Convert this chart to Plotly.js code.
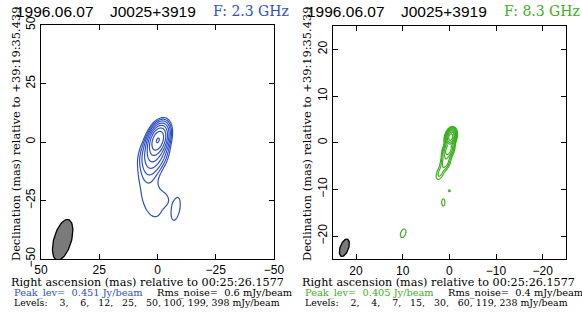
<!DOCTYPE html>
<html><head><meta charset="utf-8">
<script src="https://cdn.plot.ly/plotly-3.0.1.min.js"></script>
<style>html,body{margin:0;padding:0;background:#fff}#plot{width:582px;height:313px}</style>
</head><body><div id="plot"></div>
<script>
// ---------- DATA ----------
const epoch = "1996.06.07";
const source = "J0025+3919";
const raRef = "00:25:26.1577";
const decRef = "+39:19:35.439";

// Panel 1 : 2.3 GHz
const freq1 = "F: 2.3 GHz";
const peak1 = 0.451;          // Jy/beam
const rms1 = 0.6;             // mJy/beam
const levels1 = [3, 6, 12, 25, 50, 100, 199, 398];   // mJy/beam
const comp1_x = [-0.2, 1.5, 3.0, 2.5, -2.5, -8.0];   // mas
const comp1_y = [0.9, -5.0, -11.0, -23.5, -24.5, -28.4];
const comp1_peak = [400, 60, 9, 5.0, 3.0, 5.0];      // mJy/beam
const comp1_maj = [7.5, 9, 9, 20, 5, 10.5];          // FWHM mas
const comp1_min = [4.2, 6, 5.5, 9.5, 5, 3.6];
const comp1_pa = [-20, -20, -15, 13, 0, -10];        // deg
const beam1 = {x: 40.7, y: -41.8, maj: 18, min: 7.5, pa: -16};

// Panel 2 : 8.3 GHz
const freq2 = "F: 8.3 GHz";
const peak2 = 0.405;
const rms2 = 0.4;
const levels2 = [2, 4, 7, 15, 30, 60, 119, 238];
const comp2_x = [-0.3, 0.2, 0.8, 2.0, 0.0, 1.3, 9.9];
const comp2_y = [1.2, -1.5, -4.0, -6.5, -10.3, -12.8, -19.4];
const comp2_peak = [380, 50, 12, 5, 3, 3, 3];
const comp2_maj = [1.7, 2.2, 2.5, 2.5, 0.5, 2.0, 2.5];
const comp2_min = [1.0, 1.2, 1.3, 1.2, 0.5, 0.9, 1.4];
const comp2_pa = [-15, -20, -15, -20, 0, 0, -20];
const beam2 = {x: 22.5, y: -22.5, maj: 3.9, min: 1.8, pa: -20};

const blue = "#2f4fc4";
const green = "#3cb022";

// ---------- HELPERS ----------
function makeGrid(cx, cy, pk, maj, mn, pa, x0, x1, y0, y1, step, levels) {
  const xs = [], ys = [];
  for (let x = x0; x <= x1 + 1e-9; x += step) xs.push(+x.toFixed(4));
  for (let y = y0; y <= y1 + 1e-9; y += step) ys.push(+y.toFixed(4));
  const k = 4 * Math.log(2);
  const z = ys.map(y => xs.map(x => {
    let s = 0;
    for (let i = 0; i < cx.length; i++) {
      const t = pa[i] * Math.PI / 180;
      const dx = x - cx[i], dy = y - cy[i];
      const a = dx * Math.sin(t) + dy * Math.cos(t);
      const b = dx * Math.cos(t) - dy * Math.sin(t);
      s += pk[i] * Math.exp(-k * (a * a / (maj[i] * maj[i]) + b * b / (mn[i] * mn[i])));
    }
    s = Math.max(s, 1e-8);
    const L = levels, n = L.length;
    if (s < L[0]) return 1 + Math.log(s / L[0]) / Math.log(L[1] / L[0]);
    for (let i = 0; i < n - 1; i++) {
      if (s < L[i + 1]) return i + 1 + Math.log(s / L[i]) / Math.log(L[i + 1] / L[i]);
    }
    return n + Math.log(s / L[n - 1]) / Math.log(L[n - 1] / L[n - 2]);
  }));
  return {xs, ys, z};
}
function beamTrace(b, xa, ya) {
  const bx = [], by = [];
  const t = b.pa * Math.PI / 180;
  for (let i = 0; i <= 72; i++) {
    const p = i / 72 * 2 * Math.PI;
    const a = b.maj / 2 * Math.cos(p), c = b.min / 2 * Math.sin(p);
    bx.push(b.x + a * Math.sin(t) + c * Math.cos(t));
    by.push(b.y + a * Math.cos(t) - c * Math.sin(t));
  }
  return {x: bx, y: by, xaxis: xa, yaxis: ya, type: "scatter", mode: "lines",
    fill: "toself", fillcolor: "#7a7a7a", line: {color: "#000", width: 1.3},
    hoverinfo: "skip", showlegend: false};
}
function contourTrace(g, color, nlev, xa, ya) {
  return {type: "contour", x: g.xs, y: g.ys, z: g.z, xaxis: xa, yaxis: ya,
    contours: {coloring: "lines", start: 1, end: nlev, size: 1, showlabels: false},
    colorscale: [[0, color], [1, color]], showscale: false,
    line: {width: 1.2, smoothing: 1}, hoverinfo: "skip"};
}

const g1 = makeGrid(comp1_x, comp1_y, comp1_peak, comp1_maj, comp1_min, comp1_pa,
  -22, 22, -45, 20, 0.25, levels1);
const g2 = makeGrid(comp2_x, comp2_y, comp2_peak, comp2_maj, comp2_min, comp2_pa,
  -5, 14, -24, 7, 0.06, levels2);

const traces = [
  contourTrace(g1, blue, levels1.length, "x", "y"),
  beamTrace(beam1, "x", "y"),
  contourTrace(g2, green, levels2.length, "x2", "y2"),
  beamTrace(beam2, "x2", "y2")
];

// ---------- LAYOUT ----------
const W = 582, H = 313;
const px = v => v / W, py = v => 1 - v / H;
const NB = "\u00a0";
const nb = s => s.replace(/ /g, NB);

function axisX(dom, rng, dt) {
  return {domain: dom, range: rng, dtick: dt, tick0: 0, ticks: "inside", ticklen: 5,
    tickcolor: "#000", mirror: "ticks", showline: true, linecolor: "#000", linewidth: 1,
    showgrid: false, zeroline: false, tickfont: {family: "Liberation Sans", size: 12, color: "#000"},
    fixedrange: true};
}
function axisY(dom, rng, dt, anchor) {
  const a = axisX(dom, rng, dt);
  a.tickangle = -90; a.anchor = anchor;
  return a;
}

const ann = [];
function addPanel(off, freq, col, peak, rms, levels) {
  ann.push({text: epoch, x: px(off + 15), y: py(11), xanchor: "left", yanchor: "middle",
    font: {family: "Liberation Sans", size: 15.5, color: "#000"}});
  ann.push({text: source, x: px(off + 109), y: py(11), xanchor: "left", yanchor: "middle",
    font: {family: "Liberation Sans", size: 15.5, color: "#000"}});
  ann.push({text: freq, x: px(off + 211.5), y: py(11), xanchor: "left", yanchor: "middle",
    font: {family: "DejaVu Serif", size: 14, color: col}});
  ann.push({text: "Right ascension (mas) relative to " + raRef, x: px(off + 147), y: py(282.5),
    xanchor: "center", yanchor: "middle",
    font: {family: "DejaVu Serif", size: 11.2, color: "#000"}});
  ann.push({text: "Declination (mas) relative to " + decRef, x: px(off + 16), y: py(134),
    xanchor: "center", yanchor: "middle", textangle: -90,
    font: {family: "DejaVu Serif", size: 11.4, color: "#000"}});
  ann.push({text: nb("Peak_lev=  " + peak.toFixed(3) + " Jy/beam"), x: px(off + 12.5), y: py(293),
    xanchor: "left", yanchor: "middle",
    font: {family: "DejaVu Serif", size: 9.8, color: col}});
  ann.push({text: nb("Rms_noise=  " + rms.toFixed(1) + " mJy/beam"), x: px(off + 156), y: py(293),
    xanchor: "left", yanchor: "middle",
    font: {family: "DejaVu Serif", size: 9.8, color: "#000"}});
  const lv = "Levels:" + levels.map(v => NB.repeat(v < 10 ? 4 : (v < 100 ? 3 : 1)) + v).join(",") + NB + "mJy/beam";
  ann.push({text: lv, x: px(off + 12.5), y: py(302.5),
    xanchor: "left", yanchor: "middle",
    font: {family: "DejaVu Serif", size: 9.4, color: "#000"}});
}
addPanel(0, freq1, blue, peak1, rms1, levels1);
addPanel(291, freq2, green, peak2, rms2, levels2);
ann.forEach(a => { a.xref = "paper"; a.yref = "paper"; a.showarrow = false; a.borderpad = 0; });

const layout = {
  width: W, height: H, margin: {l: 0, r: 0, t: 0, b: 0}, paper_bgcolor: "#fff", plot_bgcolor: "#fff",
  showlegend: false,
  xaxis: axisX([px(41), px(274)], [50, -50], 25),
  yaxis: axisY([py(259), py(25)], [-50, 50], 25, "x"),
  xaxis2: axisX([px(332.7), px(566)], [25, -25], 10),
  yaxis2: axisY([py(259.4), py(26)], [-25, 25], 10, "x2"),
  annotations: ann
};
layout.xaxis.anchor = "y"; layout.xaxis2.anchor = "y2";
Plotly.newPlot("plot", traces, layout, {staticPlot: true, displayModeBar: false});
</script></body></html>
